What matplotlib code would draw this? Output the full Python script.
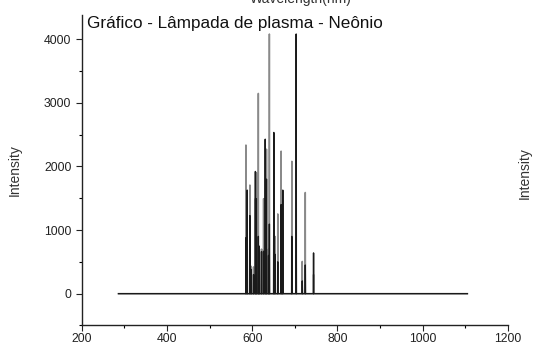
import matplotlib
matplotlib.use("Agg")
import matplotlib.pyplot as plt
from matplotlib.ticker import MultipleLocator

plt.rcParams['font.family'] = ['Liberation Sans', 'DejaVu Sans']

# Neon emission lines (nm) and peak intensities for the two overlaid acquisitions
lines_nm = [585.2, 588.2, 594.5, 597.6, 603.0, 607.4, 609.6, 614.3, 616.4,
            621.7, 626.6, 630.5, 633.4, 638.3, 640.2, 650.6, 653.3, 659.9,
            667.8, 671.7, 692.9, 703.2, 717.4, 724.5, 743.9]
grey_int = [2336, 880, 1707, 430, 420, 1493, 1900, 3147, 430,
            700, 1493, 1500, 2270, 700, 4080, 1200, 900, 1253,
            2240, 1000, 2080, 600, 507, 1590, 300]
black_int = [880, 1627, 1227, 380, 300, 1920, 1493, 900, 747,
             660, 667, 2427, 1800, 600, 1093, 2533, 620, 500,
             1400, 1627, 900, 4080, 200, 450, 640]

baseline_start = 286
baseline_end = 1105


def spectrum(centers, heights):
    # stick spectrum: zero baseline with a narrow spike at every line
    xs = [baseline_start]
    ys = [0]
    for c, h in sorted(zip(centers, heights)):
        xs += [c - 0.4, c, c + 0.4]
        ys += [0, h, 0]
    xs.append(baseline_end)
    ys.append(0)
    return xs, ys


fig = plt.figure(figsize=(5.42, 3.47), dpi=100)
ax = fig.add_axes([0.151, 0.062, 0.786, 0.895])

gx, gy = spectrum(lines_nm, grey_int)
bx, by = spectrum(lines_nm, black_int)
ax.plot(gx, gy, color='#8a8a8a', lw=1.1)
ax.plot(bx, by, color='#1a1a1a', lw=1.0)

ax.set_xlim(200, 1200)
ax.set_ylim(-500, 4380)
ax.xaxis.set_major_locator(MultipleLocator(200))
ax.xaxis.set_minor_locator(MultipleLocator(100))
ax.yaxis.set_major_locator(MultipleLocator(1000))
ax.yaxis.set_minor_locator(MultipleLocator(500))
ax.tick_params(which='major', direction='out', length=4, width=0.8,
               labelsize=8.8, colors='#222222')
ax.tick_params(axis='x', which='major', pad=1.5)
ax.tick_params(which='minor', direction='out', length=2.5, width=0.8)

for side in ('top', 'right'):
    ax.spines[side].set_visible(False)
for side in ('left', 'bottom'):
    ax.spines[side].set_linewidth(1.0)
    ax.spines[side].set_color('#222222')

ax.set_ylabel('Intensity', fontsize=10, color='#333333', labelpad=16)
fig.text(0.968, 0.5, 'Intensity', rotation=90, fontsize=10, color='#333333',
         ha='center', va='center')
fig.text(0.555, 1.004, 'Wavelength(nm)', fontsize=10, color='#333333',
         ha='center', va='center')
ax.text(0.012, 0.996, 'Gráfico - Lâmpada de plasma - Neônio',
        transform=ax.transAxes, fontsize=12.3, color='#111111',
        ha='left', va='top')

fig.savefig('out.png', dpi=100)
